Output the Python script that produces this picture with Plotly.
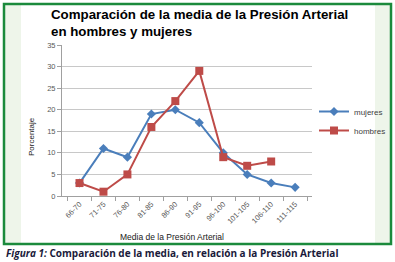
import plotly.graph_objects as go

categories = ["66-70", "71-75", "76-80", "81-85", "86-90", "91-95", "96-100", "101-105", "106-110", "111-115"]
mujeres = [3, 11, 9, 19, 20, 17, 10, 5, 3, 2]
hombres = [3, 1, 5, 16, 22, 29, 9, 7, 8]

W, H = 395, 262
L, R, T, B = 62, 312, 45, 196

def px(x):
    return (x - L) / (R - L)

def py(y):
    return (B - y) / (B - T)

fig = go.Figure()
fig.add_trace(go.Scatter(x=categories, y=mujeres, name="mujeres", mode="lines+markers",
                         line=dict(color="#4a7ebb", width=2),
                         marker=dict(symbol="diamond", size=7, color="#4a7ebb")))
fig.add_trace(go.Scatter(x=categories[:len(hombres)], y=hombres, name="hombres", mode="lines+markers",
                         line=dict(color="#be4b48", width=2),
                         marker=dict(symbol="square", size=8, color="#be4b48")))

shapes = [
    dict(type="rect", xref="paper", yref="paper", x0=px(4), x1=px(21), y0=py(244), y1=py(4),
         fillcolor="#eef5ea", line_width=0, layer="below"),
    dict(type="rect", xref="paper", yref="paper", x0=px(375), x1=px(391), y0=py(244), y1=py(4),
         fillcolor="#eef5ea", line_width=0, layer="below"),
    dict(type="rect", xref="paper", yref="paper", x0=px(4), x1=px(391), y0=py(244), y1=py(4),
         fillcolor="rgba(0,0,0,0)", line=dict(color="#1b8a3c", width=2.5), layer="above"),
]

annotations = [
    dict(text="<b>Comparación de la media de la Presión Arterial<br>en hombres y mujeres</b>",
         xref="paper", yref="paper", x=px(49), y=py(5), xanchor="left", yanchor="top",
         showarrow=False, align="left",
         font=dict(family="Liberation Sans, Arial", size=13.3, color="#000000")),
    dict(text="<b><i>Figura 1:</i> Comparación de la media, en relación a la Presión Arterial</b>",
         xref="paper", yref="paper", x=px(4), y=py(253), xanchor="left", yanchor="middle",
         showarrow=False, align="left",
         font=dict(family="Open Sans, Noto Sans", size=10, color="#1a1a3a")),
    dict(text="Media de la Presión Arterial",
         xref="paper", yref="paper", x=px(172), y=py(237), xanchor="center", yanchor="middle",
         showarrow=False, font=dict(family="Liberation Sans, Arial", size=8.5, color="#202020")),
    dict(text="Porcentaje", textangle=-90,
         xref="paper", yref="paper", x=px(31), y=py(137), xanchor="center", yanchor="middle",
         showarrow=False, font=dict(family="Liberation Sans, Arial", size=8, color="#202020")),
]

fig.update_layout(
    width=W, height=H,
    margin=dict(l=L, r=W - R, t=T, b=H - B, autoexpand=False),
    paper_bgcolor="white", plot_bgcolor="rgba(0,0,0,0)",
    showlegend=True,
    legend=dict(x=px(314), y=py(121), xanchor="left", yanchor="middle",
                font=dict(family="Liberation Sans, Arial", size=8, color="#404040"),
                bgcolor="rgba(0,0,0,0)", tracegroupgap=2, itemwidth=30),
    shapes=shapes, annotations=annotations,
    xaxis=dict(type="category", tickangle=-45, tickson="boundaries", ticks="outside", ticklen=4,
               tickcolor="#a0a0a0", showline=True, linecolor="#a0a0a0", showgrid=False,
               automargin=False,
               tickfont=dict(family="Liberation Sans, Arial", size=7.5, color="#595959")),
    yaxis=dict(range=[0, 35], dtick=5, ticks="outside", ticklen=4, tickcolor="#a0a0a0",
               showline=True, linecolor="#a0a0a0", showgrid=True, gridcolor="#c8c8c8",
               zeroline=False, automargin=False,
               tickfont=dict(family="Liberation Sans, Arial", size=7.5, color="#595959")),
)

fig.write_html("out.html", config={"displayModeBar": False},
               post_script="document.body.style.margin='0';document.body.style.overflow='hidden';")
